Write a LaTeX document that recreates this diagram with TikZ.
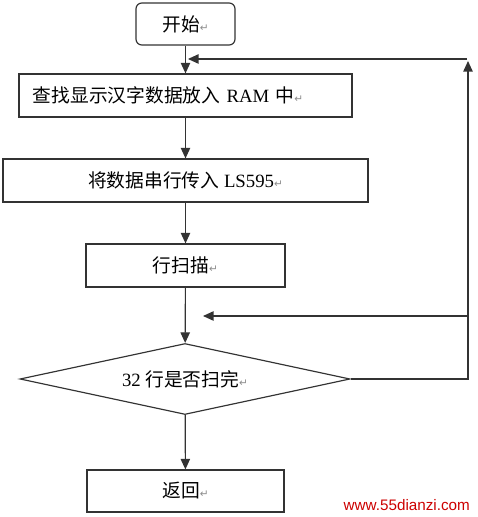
\documentclass[tikz,border=0pt]{standalone}
\usepackage{fontspec}
\usepackage{tikz}
\usepackage{xcolor}
\usetikzlibrary{shapes.geometric,arrows.meta}
\setmainfont{Liberation Serif}
\newfontfamily\cjk{Noto Sans CJK SC}
\newfontfamily\symfont{DejaVu Sans}
\newfontfamily\webfont{Liberation Sans}
\newcommand{\parmark}{{\symfont\color{black!45}\fontsize{9}{9}\selectfont ↵}}

\begin{document}
\begin{tikzpicture}[x=0.03cm, y=-0.03cm,
    every node/.style={font=\fontsize{16}{18}\selectfont},
    flowbox/.style={draw=black!80, line width=1pt, minimum height=1.29cm, inner sep=2pt},
    link/.style={draw=black!80, line width=1pt, -{Triangle[length=9pt,width=8pt]}}]
    \useasboundingbox (0,0) rectangle (477,517);
    % Start
    \node[flowbox, rounded corners=5pt, minimum width=2.97cm, minimum height=1.26cm] (S) at (185.5,24) {{\cjk 开始}\parmark};
    % Steps
    \node[flowbox, minimum width=9.99cm, text width=9.15cm, align=left, inner xsep=0.42cm] (F) at (185.5,95.5) {{\cjk 查找显示汉字数据放入} RAM {\cjk 中}\parmark};
    \node[flowbox, minimum width=10.95cm] (L) at (185.5,180.5) {{\cjk 将数据串行传入} LS595\parmark};
    \node[flowbox, minimum width=5.97cm] (R) at (185.5,265.5) {{\cjk 行扫描}\parmark};
    % Decision
    \node[draw=black!80, line width=1pt, diamond, aspect=4.6, inner sep=1pt, minimum width=9.9cm, minimum height=2.13cm] (D) at (185,379) {32 {\cjk 行是否扫完}\parmark};
    % Return
    \node[flowbox, minimum width=5.91cm, minimum height=1.26cm] (B) at (185.5,491) {{\cjk 返回}\parmark};
    \draw[link] (S) -- (F);
    \draw[link] (F) -- (L);
    \draw[link] (L) -- (R);
    \draw[link] (R) -- (D);
    \draw[link] (D) -- (B);
    % Loop back
    \coordinate (up) at (468,61);
    \coordinate (top) at (467,59);
    \coordinate (topin) at (188,59);
    \coordinate (mid) at (468,316);
    \coordinate (midin) at (203,316);
    \draw[link] (D.east) -| (up);
    \draw[link] (top) -- (topin);
    \draw[link] (mid) -- (midin);
    % Watermark
    \node[text=red!80!black, font=\webfont\fontsize{13}{13}\selectfont, anchor=east] (W) at (474,505) {www.55dianzi.com};
\end{tikzpicture}
\end{document}
